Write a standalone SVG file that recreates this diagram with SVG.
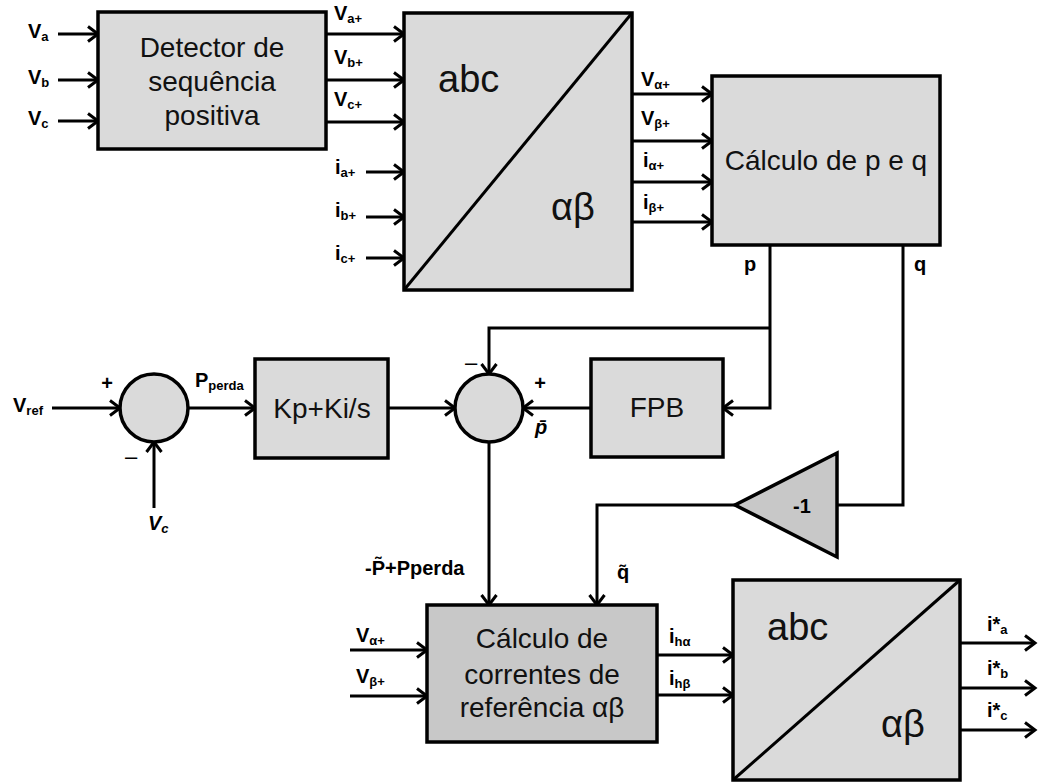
<svg xmlns="http://www.w3.org/2000/svg" width="1038" height="782" viewBox="0 0 1038 782">
<style>
.box{fill:#dadada;stroke:#000;stroke-width:3.5}
.box2{fill:#c8c8c8;stroke:#000;stroke-width:3.5}
.c{fill:none;stroke:#000;stroke-width:3}
.t{font-family:"Liberation Sans",Arial,sans-serif;font-size:28px;fill:#111;text-anchor:middle}
.big{font-family:"Liberation Sans",Arial,sans-serif;font-size:38px;fill:#111}
.l{font-family:"Liberation Sans",Arial,sans-serif;font-size:20px;font-weight:bold;fill:#000}
.s{font-size:13px}
.m{font-family:"Liberation Sans",Arial,sans-serif;font-size:22px;fill:#000}
</style>
<defs>
<marker id="ah" markerUnits="userSpaceOnUse" markerWidth="16" markerHeight="20" viewBox="0 0 16 20" refX="13" refY="10" orient="auto" overflow="visible">
<path d="M3 2.5 L13 10 L3 17.5" fill="none" stroke="#000" stroke-width="3"/>
</marker>
</defs>

<g id="connectors" class="c">
<path d="M58 34 H98" marker-end="url(#ah)"/>
<path d="M58 80 H98" marker-end="url(#ah)"/>
<path d="M58 121 H98" marker-end="url(#ah)"/>
<path d="M326 34 H404" marker-end="url(#ah)"/>
<path d="M326 80 H404" marker-end="url(#ah)"/>
<path d="M326 122 H404" marker-end="url(#ah)"/>
<path d="M366 172 H404" marker-end="url(#ah)"/>
<path d="M366 217 H404" marker-end="url(#ah)"/>
<path d="M366 258 H404" marker-end="url(#ah)"/>
<path d="M632 94 H712" marker-end="url(#ah)"/>
<path d="M632 141 H712" marker-end="url(#ah)"/>
<path d="M632 182 H712" marker-end="url(#ah)"/>
<path d="M632 222 H712" marker-end="url(#ah)"/>
<path d="M52 408 H120" marker-end="url(#ah)"/>
<path d="M154 508 V442" marker-end="url(#ah)"/>
<path d="M188 408 H255" marker-end="url(#ah)"/>
<path d="M388 408 H455" marker-end="url(#ah)"/>
<path d="M591 408 H523" marker-end="url(#ah)"/>
<path d="M770 245 V408 H723" marker-end="url(#ah)"/>
<path d="M770 328 H489 V374" marker-end="url(#ah)"/>
<path d="M903 245 V505 H837"/>
<path d="M735 505 H597 V605" marker-end="url(#ah)"/>
<path d="M489 442 V605" marker-end="url(#ah)"/>
<path d="M350 650 H427" marker-end="url(#ah)"/>
<path d="M350 696 H427" marker-end="url(#ah)"/>
<path d="M657 655 H733" marker-end="url(#ah)"/>
<path d="M657 695 H733" marker-end="url(#ah)"/>
<path d="M960 643 H1035" marker-end="url(#ah)"/>
<path d="M960 688 H1035" marker-end="url(#ah)"/>
<path d="M960 730 H1035" marker-end="url(#ah)"/>
</g>

<g id="detector">
<rect class="box" x="98" y="12" width="228" height="137"/>
<text class="t" x="212" y="57">Detector de</text>
<text class="t" x="212" y="91">sequência</text>
<text class="t" x="212" y="125">positiva</text>
</g>

<g id="abc1">
<rect class="box" x="404" y="13" width="228" height="277"/>
<line x1="404" y1="290" x2="632" y2="13" stroke="#000" stroke-width="3"/>
<text class="big" x="438" y="92">abc</text>
<text class="big" x="551" y="220">αβ</text>
</g>

<g id="calc-pq">
<rect class="box" x="712" y="76" width="228" height="169"/>
<text class="t" x="826" y="170">Cálculo de p e q</text>
</g>

<g id="sum1">
<circle class="box" cx="154" cy="408" r="34" stroke-width="3"/>
</g>

<g id="pi">
<rect class="box" x="255" y="359" width="133" height="99"/>
<text class="t" x="322" y="418">Kp+Ki/s</text>
</g>

<g id="sum2">
<circle class="box" cx="489" cy="408" r="34" stroke-width="3"/>
</g>

<g id="fpb">
<rect class="box" x="591" y="359" width="132" height="98"/>
<text class="t" x="657" y="417">FPB</text>
</g>

<g id="gain">
<polygon class="box2" points="837,453 837,557 735,505" stroke-width="3"/>
<text class="l" x="802" y="513" text-anchor="middle">-1</text>
</g>

<g id="calc-ref">
<rect class="box2" x="427" y="605" width="230" height="137"/>
<text class="t" x="542" y="648">Cálculo de</text>
<text class="t" x="542" y="684">correntes de</text>
<text class="t" x="542" y="717">referência αβ</text>
</g>

<g id="abc2">
<rect class="box" x="733" y="580" width="227" height="200"/>
<line x1="733" y1="780" x2="960" y2="580" stroke="#000" stroke-width="3"/>
<text class="big" x="767" y="640">abc</text>
<text class="big" x="881" y="737">αβ</text>
</g>

<g id="labels">
<text class="l" x="28" y="38">V<tspan class="s" dy="3">a</tspan></text>
<text class="l" x="28" y="84">V<tspan class="s" dy="3">b</tspan></text>
<text class="l" x="28" y="125">V<tspan class="s" dy="3">c</tspan></text>
<text class="l" x="334" y="20">V<tspan class="s" dy="3">a+</tspan></text>
<text class="l" x="334" y="64">V<tspan class="s" dy="3">b+</tspan></text>
<text class="l" x="334" y="106">V<tspan class="s" dy="3">c+</tspan></text>
<text class="l" x="335" y="174">i<tspan class="s" dy="3">a+</tspan></text>
<text class="l" x="335" y="217">i<tspan class="s" dy="3">b+</tspan></text>
<text class="l" x="335" y="260">i<tspan class="s" dy="3">c+</tspan></text>
<text class="l" x="641" y="86">V<tspan class="s" dy="3">α+</tspan></text>
<text class="l" x="641" y="125">V<tspan class="s" dy="3">β+</tspan></text>
<text class="l" x="643" y="167">i<tspan class="s" dy="3">α+</tspan></text>
<text class="l" x="643" y="209">i<tspan class="s" dy="3">β+</tspan></text>
<text class="l" x="744" y="271">p</text>
<text class="l" x="914" y="271">q</text>
<text class="l" x="13" y="412">V<tspan class="s" dy="3">ref</tspan></text>
<text class="l" x="107" y="390" text-anchor="middle">+</text>
<text class="m" x="125" y="464">–</text>
<text class="l" x="195" y="387">P<tspan class="s" dy="3" font-size="15px">perda</tspan></text>
<text class="l" x="148" y="530" font-style="italic">V<tspan class="s" dy="3">c</tspan></text>
<text class="m" x="465" y="370">–</text>
<text class="l" x="540" y="390" text-anchor="middle">+</text>
<text class="l" x="535" y="434" font-style="italic">p&#x304;</text>
<text class="l" x="365" y="575" font-size="22px">-P&#x303;+Pperda</text>
<text class="l" x="617" y="579">q&#x303;</text>
<text class="l" x="356" y="642">V<tspan class="s" dy="3">α+</tspan></text>
<text class="l" x="356" y="683">V<tspan class="s" dy="3">β+</tspan></text>
<text class="l" x="669" y="643">i<tspan class="s" dy="3">hα</tspan></text>
<text class="l" x="669" y="685">i<tspan class="s" dy="3">hβ</tspan></text>
<text class="l" x="987" y="631">i*<tspan class="s" dy="3">a</tspan></text>
<text class="l" x="987" y="675">i*<tspan class="s" dy="3">b</tspan></text>
<text class="l" x="987" y="717">i*<tspan class="s" dy="3">c</tspan></text>
</g>
</svg>
